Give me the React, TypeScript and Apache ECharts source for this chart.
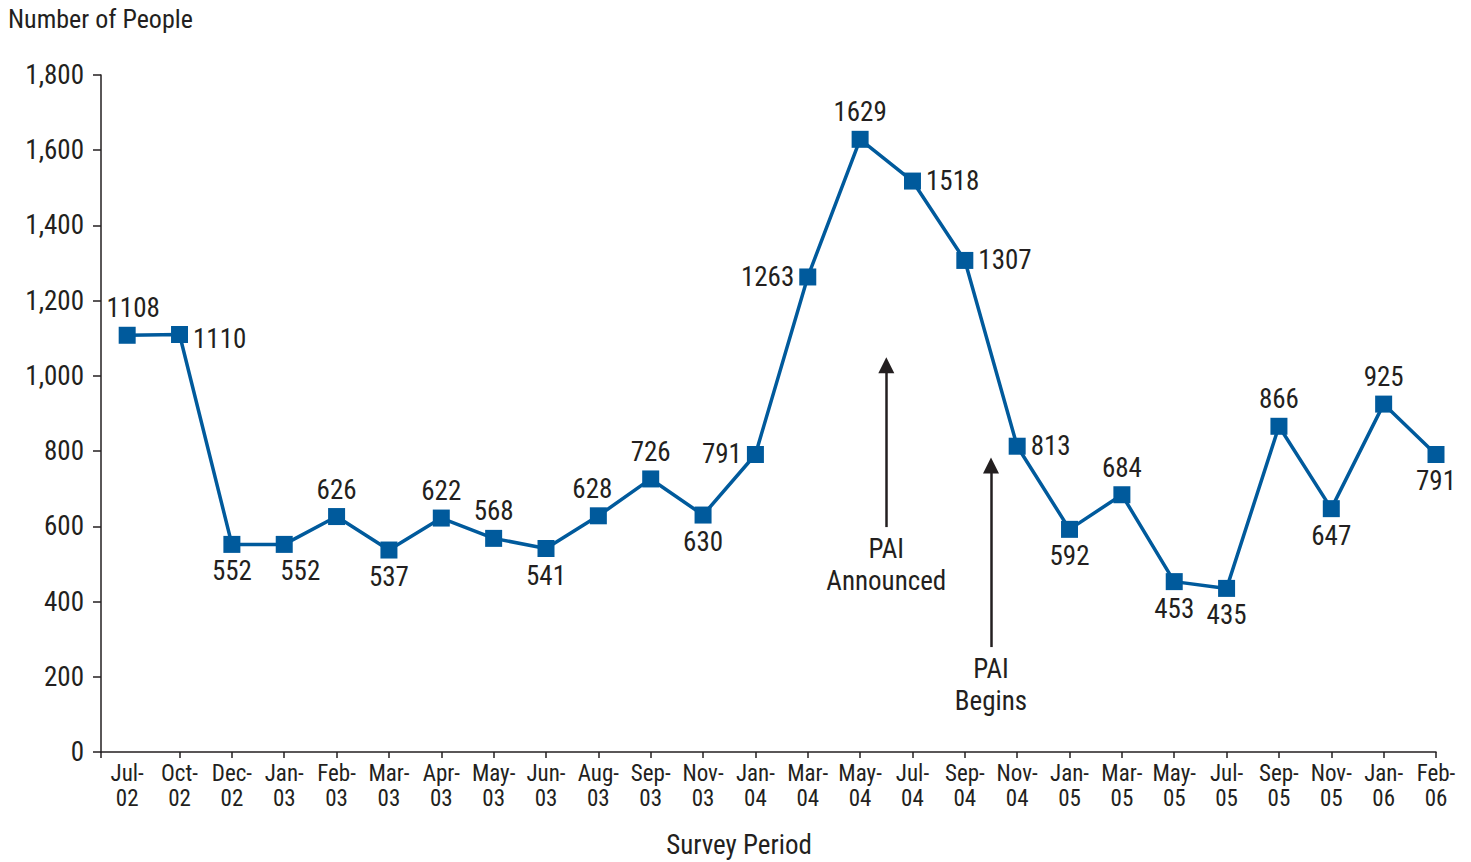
import React, { useEffect, useRef } from "react";
import * as echarts from "echarts";

// Survey periods (one point each) and the head-count recorded in each
const periods = [
  "Jul-02", "Oct-02", "Dec-02", "Jan-03", "Feb-03", "Mar-03", "Apr-03", "May-03",
  "Jun-03", "Aug-03", "Sep-03", "Nov-03", "Jan-04", "Mar-04", "May-04", "Jul-04",
  "Sep-04", "Nov-04", "Jan-05", "Mar-05", "May-05", "Jul-05", "Sep-05", "Nov-05",
  "Jan-06", "Feb-06",
];
const people = [
  1108, 1110, 552, 552, 626, 537, 622, 568, 541, 628, 726, 630, 791, 1263, 1629, 1518,
  1307, 813, 592, 684, 453, 435, 866, 647, 925, 791,
];
// Where each value label sits relative to its marker
const labelSides = [
  "top", "right", "bottom", "bottom", "top", "bottom", "top", "top", "bottom", "top",
  "top", "bottom", "left", "left", "top", "right", "right", "right", "bottom", "top",
  "bottom", "bottom", "top", "bottom", "top", "bottom",
];
// Program milestones, placed between survey periods (index units)
const milestoneText = ["PAI\nAnnounced", "PAI\nBegins"];
const milestoneAt = [14.5, 16.5];
const milestoneSpan = [
  [598, 1028],
  [279, 762],
];

const yTicks = [0, 200, 400, 600, 800, 1000, 1200, 1400, 1600, 1800];

const FONT = "'Liberation Sans Narrow', 'Roboto Condensed', 'DejaVu Sans Condensed', 'Liberation Sans', sans-serif";
const INK = "#231f20";
const BLUE = "#005a9c";

export default function App() {
  const ref = useRef<HTMLDivElement>(null);

  useEffect(() => {
    if (!ref.current) return;
    const chart = echarts.init(ref.current, undefined, { renderer: "svg" });

    const labelOffsets: Record<number, number[]> = { 0: [6, 0], 1: [0, 4], 3: [16, 0], 9: [-6, 0] };

    const seriesData = people.map((v, i) => ({
      value: [i, v],
      label: {
        position: labelSides[i] as any,
        offset: labelOffsets[i] || [0, 0],
      },
    }));

    const xMin = -0.5;

    chart.setOption({
      animation: false,
      textStyle: { fontFamily: FONT },
      grid: { left: 101, right: 35, top: 75, bottom: 110, containLabel: false },
      xAxis: {
        type: "value",
        min: xMin,
        max: periods.length - 1,
        splitLine: { show: false },
        axisLine: { show: true, onZero: false, lineStyle: { color: INK, width: 1.5 } },
        axisTick: {
          show: true,
          length: 6,
          lineStyle: { color: INK, width: 1.5 },
          customValues: [xMin, ...periods.slice(1).map((_, i) => i + 1)],
        },
        axisLabel: {
          customValues: periods.map((_, i) => i),
          formatter: (v: number) => periods[Math.round(v)].replace("-", "-\n"),
          fontFamily: FONT,
          fontSize: 23,
          lineHeight: 25,
          color: INK,
          margin: 9,
        },
      },
      yAxis: {
        type: "value",
        min: 0,
        max: yTicks[yTicks.length - 1],
        interval: yTicks[1] - yTicks[0],
        splitLine: { show: false },
        axisLine: { show: true, onZero: false, lineStyle: { color: INK, width: 1.5 } },
        axisTick: { show: true, length: 8, lineStyle: { color: INK, width: 1.5 } },
        axisLabel: {
          formatter: (v: number) => v.toLocaleString("en-US"),
          fontFamily: FONT,
          fontSize: 27,
          color: INK,
          margin: 17,
        },
      },
      series: [
        {
          type: "line",
          data: seriesData,
          symbol: "rect",
          symbolSize: 17,
          lineStyle: { color: BLUE, width: 3.5 },
          itemStyle: { color: BLUE },
          label: {
            show: true,
            formatter: (p: any) => String(p.value[1]),
            fontFamily: FONT,
            fontSize: 27,
            color: INK,
            distance: 5,
          },
          markLine: {
            silent: true,
            animation: false,
            symbol: ["none", "triangle"],
            symbolSize: 16,
            lineStyle: { color: INK, width: 2.5, type: "solid" },
            label: {
              show: true,
              position: "start",
              fontFamily: FONT,
              fontSize: 27,
              lineHeight: 32,
              color: INK,
              distance: 6,
            },
            data: milestoneText.map((t, i) => [
              { coord: [milestoneAt[i], milestoneSpan[i][0]], label: { formatter: t } },
              { coord: [milestoneAt[i], milestoneSpan[i][1]] },
            ]),
          },
        },
      ],
      graphic: [
        {
          type: "text",
          left: 8,
          top: 6,
          style: { text: "Number of People", fontFamily: FONT, fontSize: 26, fill: INK },
        },
        {
          type: "text",
          x: 739,
          y: 845,
          style: {
            text: "Survey Period",
            fontFamily: FONT,
            fontSize: 27,
            fill: INK,
            align: "center",
            verticalAlign: "middle",
          },
        },
      ],
    });

    return () => chart.dispose();
  }, []);

  return (
    <div
      ref={ref}
      style={{ position: "absolute", left: 0, top: 0, width: 1471, height: 862, background: "#fff" }}
    />
  );
}
